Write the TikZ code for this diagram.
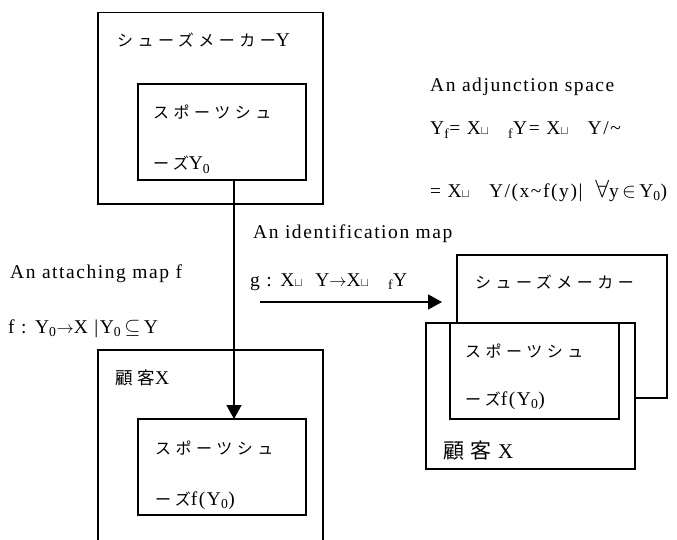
\documentclass[tikz,border=0pt]{standalone}
\usepackage{fontspec}
\setmainfont{Liberation Serif}[LetterSpace=8]
\newfontfamily\jpfont{Noto Sans CJK JP}[LetterSpace=28]
\newcommand{\jp}[1]{{\jpfont\fontsize{16}{20}\selectfont #1}}
\newcommand{\cupsym}{{\fontsize{13}{13}\selectfont$\sqcup$}}
\newcommand{\bigsym}[1]{{\fontsize{21}{21}\selectfont$#1$}}
\newcommand{\mapto}{{\fontsize{16}{16}\selectfont$\rightarrow$}}
\usetikzlibrary{positioning,arrows.meta}

\begin{document}
\begin{tikzpicture}[x=1pt,y=-1pt,
    box/.style 2 args={draw,line width=1.6pt,fill=white,outer sep=0pt,inner sep=0pt,
      anchor=north west,minimum width=#1,minimum height=#2},
    lbl/.style={anchor=base west,inner sep=0pt,font=\fontsize{19.5}{21}\selectfont},
    conn/.style={line width=1.6pt,-{Triangle[length=14pt,width=15pt]}}]
    \useasboundingbox (0,0) rectangle (677,540);
    \clip (0,0) rectangle (677,540);
    \node[box={225pt}{191.5pt}] (shoeY) at (98,12.5) {};
    \node[box={168pt}{96pt}] (sportY) at (138,84) {};
    \node[box={225pt}{230pt}] (custX) at (98,350) {};
    \node[box={168pt}{96pt}] (sportX) at (138,419) {};
    \node[box={210pt}{143pt}] (shoeB) at (457,255) {};
    \node[box={209pt}{146pt}] (custB) at (426,323) {};
    \node[box={169pt}{96pt}] (sportB) at (450,323) {};
    \node[lbl] (tShoeY) at (117,47) {\jp{シューズメーカー}Y};
    \node[lbl] (tSportYa) at (153,119) {\jp{スポーツシュ}};
    \node[lbl] (tSportYb) at (153,170) {\jp{ーズ}Y\textsubscript{0}};
    \node[lbl] (tCustX) at (115,384) {{\jpfont\fontsize{17.5}{20}\selectfont 顧客}X};
    \node[lbl] (tSportXa) at (155,454) {\jp{スポーツシュ}};
    \node[lbl] (tSportXb) at (155,505) {\jp{ーズ}f(Y\textsubscript{0})};
    \node[lbl] (tShoeB) at (475,288) {\jp{シューズメーカー}};
    \node[lbl] (tSportBa) at (465,357) {\jp{スポーツシュ}};
    \node[lbl] (tSportBb) at (465,405) {\jp{ーズ}f(Y\textsubscript{0})};
    \node[lbl,font=\fontsize{21}{22}\selectfont] (tCustB) at (443,458) {{\jpfont 顧客} X};
    \node[lbl] (tAdj) at (430,92) {An adjunction space};
    \node[lbl] (tAdjA) at (430,135) {Y\textsubscript{f}= X\cupsym\ \ \ \textsubscript{f}Y= X\cupsym\ \ \ Y/\textasciitilde};
    \node[lbl] (tAdjB) at (430,197) {= X\cupsym\ \ \ Y/(x\textasciitilde f(y)|\ \ {\fontsize{36}{36}\selectfont$\forall$}y\,\bigsym{\in}\,Y\textsubscript{0})};
    \node[lbl] (tIdent) at (253,238) {An identification map};
    \node[lbl] (tG) at (250,286) {g : X\cupsym\ \ Y\mapto X\cupsym\ \ \ \textsubscript{f}Y};
    \node[lbl] (tAttach) at (10,278) {An attaching map f};
    \node[lbl] (tF) at (8,333) {f : Y\textsubscript{0}\mapto X |Y\textsubscript{0}\,\bigsym{\subseteq}\,Y};
    \coordinate (gStart) at (260,302);
    \coordinate (gEnd) at (442,302);
    \draw[conn] ([xshift=12pt]sportY.south) -- ([xshift=12pt]sportX.north);
    \draw[conn] (gStart) -- (gEnd);
\end{tikzpicture}
\end{document}
